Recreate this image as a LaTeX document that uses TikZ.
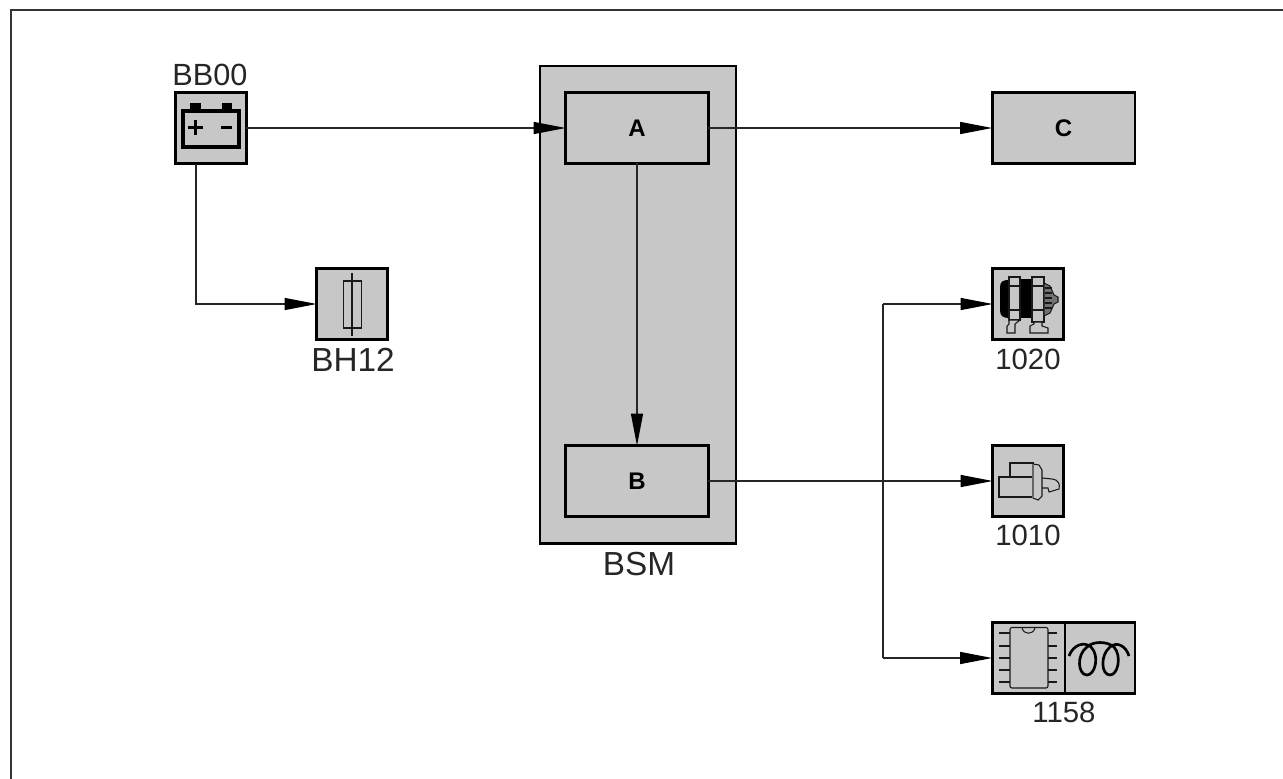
\documentclass[tikz,border=0pt]{standalone}
\usepackage{fontspec}
\setmainfont{Liberation Sans}
\usetikzlibrary{arrows.meta}
\definecolor{boxgrey}{gray}{0.78}
\tikzset{
 x=0.75pt,y=-0.75pt,
 box/.style={draw=black,line width=2pt,fill=boxgrey,inner sep=0pt,outer sep=0pt,minimum width=53pt,minimum height=53pt},
 widebox/.style={box,minimum width=107pt},
 lab/.style={font=\fontsize{23pt}{26pt}\selectfont,inner sep=0pt,text=black!85},
 biglab/.style={font=\fontsize{25pt}{28pt}\selectfont,inner sep=0pt,text=black!85},
 digits/.style={font=\fontsize{22pt}{26pt}\selectfont,inner sep=0pt,text=black!85},
 letter/.style={font=\bfseries\fontsize{18pt}{20pt}\selectfont,inner sep=0pt},
 conn/.style={line width=0.9pt,black!85,-{Stealth[length=24pt,width=9pt,inset=0pt,black]}},
 wire/.style={line width=0.9pt,black!85},
 sym/.style={line width=0.8pt,black!90}
}
\begin{document}
\begin{tikzpicture}
\useasboundingbox (0,0) rectangle (1283,779);
\fill[white] (0,0) rectangle (1283,779);
\coordinate (fTL) at (11,10);
\coordinate (fTR) at (1283,10);
\coordinate (fBL) at (11,779);
\draw[line width=1.6pt,black!80] (fBL) -- (fTL) -- (fTR);
% BSM container
\node[box,minimum width=147pt,minimum height=358pt] (bsm) at (638,304.5) {};
\node[widebox] (A) at (637,128) {};
\node[letter] at (A) {A};
\node[widebox] (B) at (637,481) {};
\node[letter] at (B) {B};
\node[widebox] (C) at (1063.5,128) {};
\node[letter] at (C) {C};
\node[biglab] (bsmlab) at (639,564) {BSM};
% component boxes
\node[box] (bb) at (211,128) {};
\node[lab] (bblab) at (210,75) {BB00};
\node[box] (bh) at (352,304) {};
\node[biglab] (bhlab) at (353,360) {BH12};
\node[box] (alt) at (1028,304) {};
\node[digits] (altlab) at (1028,359) {1020};
\node[box] (st) at (1028,481) {};
\node[digits] (stlab) at (1028,535) {1010};
\node[box,minimum width=107pt] (ecu) at (1063.5,658) {};
\node[digits] (eculab) at (1064,712) {1158};
% connectors
\draw[conn] (bb.east) -- (A.west);
\draw[conn] (A.east) -- (C.west);
\draw[conn] (A.south) -- (B.north);
\draw[conn] (B.east) -- (st.west);
\coordinate (k1) at (196,304);
\coordinate (k0) at (196,164);
\draw[conn] (k0) -- (k1) -- (bh.west);
\coordinate (v1) at (883,304);
\coordinate (v2) at (883,658);
\draw[conn] (v1) -- (alt.west);
\draw[conn] (v2) -- (ecu.west);
\draw[wire] (v1) -- (v2);
% battery
\fill[black] (190,103) rectangle (201,111);
\fill[black] (222,103) rectangle (232,111);
\draw[line width=2.6pt,fill=boxgrey] (183,111) rectangle (239,147);
\draw[line width=3.4pt] (182,147) -- (240,147);
\draw[line width=2.2pt] (188,127.5) -- (203,127.5) (195.5,120) -- (195.5,135) (221,127.5) -- (232,127.5);
% fuse
\draw[sym] (352,273) -- (352,336);
\draw[sym] (343.5,281) rectangle (361.5,328);
% alternator
\fill[black] (1000,287) .. controls (1000,281) and (1004,280) .. (1009,280) -- (1009,318) .. controls (1003,318) and (1000,316) .. (1000,310) -- cycle;
\fill[black] (1020,279) rectangle (1033,318);
\draw[sym,fill=boxgrey] (1009,277) rectangle (1020,320);
\draw[sym,fill=boxgrey] (1032,277) rectangle (1044,322);
\draw[sym] (1009,286) -- (1020,286) (1009,310) -- (1020,310) (1032,286) -- (1044,286) (1032,310) -- (1044,310);
\draw[sym,fill=boxgrey] (1009,320) -- (1020,320) -- (1015,324) -- (1015,333) -- (1007,333) -- (1007,326) -- (1009,324) -- cycle;
\draw[sym,fill=boxgrey] (1034,322) -- (1042,322) -- (1042,326) -- (1048,328) -- (1048,333) -- (1030,333) -- (1030,326) -- (1034,324) -- cycle;
\draw[sym,fill=black!55] (1044,283) -- (1050,286) -- (1054,295) -- (1058,297) -- (1058,302) -- (1054,304) -- (1050,313) -- (1044,316) -- cycle;
\foreach \yy in {288,293,298,303,308} \draw[sym] (1045,\yy) -- (1052,\yy);
% starter
\draw[sym,fill=boxgrey] (1010,463) rectangle (1033,478);
\draw[sym,fill=boxgrey] (999,477) rectangle (1033,497);
\draw[sym,fill=boxgrey] (1033,464) -- (1039,465) -- (1042,470) -- (1042,496) -- (1038,500) -- (1033,498) -- cycle;
\draw[line width=1.6pt,black!60] (1033,464) -- (1033,498);
\draw[sym] (1042,478) -- (1052,479) .. controls (1059,480) and (1060,484) .. (1059,489) -- (1049,492) -- (1048,488) -- (1042,488);
% ECU
\draw[line width=1pt] (1065,623) -- (1065,693);
\draw[sym,fill=boxgrey,rounded corners=1.5pt] (1010,627.5) rectangle (1048,688);
\draw[sym] (1022,628) .. controls (1024,635) and (1033,635) .. (1035,628);
\foreach \yy in {633,646,658,670,682} {\draw[sym] (999,\yy) -- (1010,\yy); \draw[sym] (1048,\yy) -- (1057,\yy);}
% coil
\draw[line width=2pt] (1069,656) .. controls (1073,645) and (1084,641) .. (1091,647)
 .. controls (1100,656) and (1095,675) .. (1087,675) .. controls (1078,675) and (1076,655) .. (1087,647)
 .. controls (1093,641) and (1107,641) .. (1114,647) .. controls (1122,656) and (1118,675) .. (1110,675)
 .. controls (1101,675) and (1100,655) .. (1110,647) .. controls (1117,641) and (1126,646) .. (1129,656);
\end{tikzpicture}
\end{document}
